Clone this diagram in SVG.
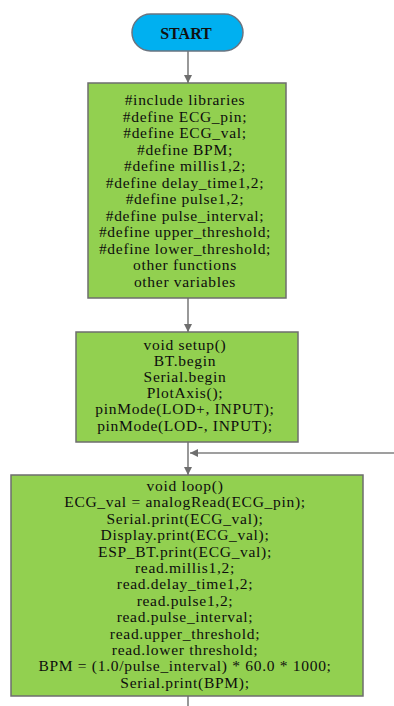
<svg xmlns="http://www.w3.org/2000/svg" width="394" height="706" viewBox="0 0 394 706">
<defs>
<style>
.box{fill:#92d050;stroke:#6e6e6e;stroke-width:1.5}
.t{font-family:"Liberation Serif","Times New Roman",serif;font-size:15.5px;letter-spacing:0.7px;fill:#0d0d0d;text-anchor:middle}
.ln{stroke:#7f7f7f;stroke-width:1.6;fill:none}
</style>
<marker id="ah" viewBox="0 0 10 10" refX="10" refY="5" markerWidth="9" markerHeight="8" markerUnits="userSpaceOnUse" orient="auto">
<path d="M0,0 L10,5 L0,10 z" fill="#6e6e6e"/>
</marker>
</defs>
<rect width="394" height="706" fill="#ffffff"/>
<g id="connectors">
<line class="ln" x1="188" y1="51" x2="188" y2="83" marker-end="url(#ah)"/>
<line class="ln" x1="188" y1="298" x2="188" y2="332" marker-end="url(#ah)"/>
<line class="ln" x1="188" y1="442" x2="188" y2="475" marker-end="url(#ah)"/>
<line class="ln" x1="394" y1="453" x2="190" y2="453" marker-end="url(#ah)"/>
<line class="ln" x1="188" y1="696" x2="188" y2="706"/>
</g>
<g id="start">
<rect x="132" y="14" width="111" height="37" rx="18.5" fill="#00b0f0" stroke="#6a7480" stroke-width="1.5"/>
<text x="186" y="39" font-family="Liberation Serif,Times New Roman,serif" font-size="16" font-weight="bold" text-anchor="middle" fill="#111">START</text>
</g>
<g id="defines">
<rect class="box" x="88" y="83" width="198" height="215"/>
<text class="t" x="185" y="105">#include libraries</text>
<text class="t" x="185" y="121.5">#define ECG_pin;</text>
<text class="t" x="185" y="138">#define ECG_val;</text>
<text class="t" x="185" y="154.5">#define BPM;</text>
<text class="t" x="185" y="171">#define millis1,2;</text>
<text class="t" x="185" y="187.5">#define delay_time1,2;</text>
<text class="t" x="185" y="204">#define pulse1,2;</text>
<text class="t" x="185" y="220.5">#define pulse_interval;</text>
<text class="t" x="185" y="237">#define upper_threshold;</text>
<text class="t" x="185" y="253.5">#define lower_threshold;</text>
<text class="t" x="185" y="270">other functions</text>
<text class="t" x="185" y="286.5">other variables</text>
</g>
<g id="setup">
<rect class="box" x="76" y="332" width="222" height="110"/>
<text class="t" x="185" y="350">void setup()</text>
<text class="t" x="185" y="366.1">BT.begin</text>
<text class="t" x="185" y="382.2">Serial.begin</text>
<text class="t" x="185" y="398.3">PlotAxis();</text>
<text class="t" x="185" y="414.4">pinMode(LOD+, INPUT);</text>
<text class="t" x="185" y="430.5">pinMode(LOD-, INPUT);</text>
</g>
<g id="loop">
<rect class="box" x="11" y="475" width="352" height="221"/>
<text class="t" x="185" y="491">void loop()</text>
<text class="t" x="185" y="507.4">ECG_val = analogRead(ECG_pin);</text>
<text class="t" x="185" y="523.8">Serial.print(ECG_val);</text>
<text class="t" x="185" y="540.2">Display.print(ECG_val);</text>
<text class="t" x="185" y="556.6">ESP_BT.print(ECG_val);</text>
<text class="t" x="185" y="573">read.millis1,2;</text>
<text class="t" x="185" y="589.4">read.delay_time1,2;</text>
<text class="t" x="185" y="605.8">read.pulse1,2;</text>
<text class="t" x="185" y="622.2">read.pulse_interval;</text>
<text class="t" x="185" y="638.6">read.upper_threshold;</text>
<text class="t" x="185" y="655">read.lower threshold;</text>
<text class="t" x="185" y="671.4">BPM = (1.0/pulse_interval) * 60.0 * 1000;</text>
<text class="t" x="185" y="687.8">Serial.print(BPM);</text>
</g>
</svg>
